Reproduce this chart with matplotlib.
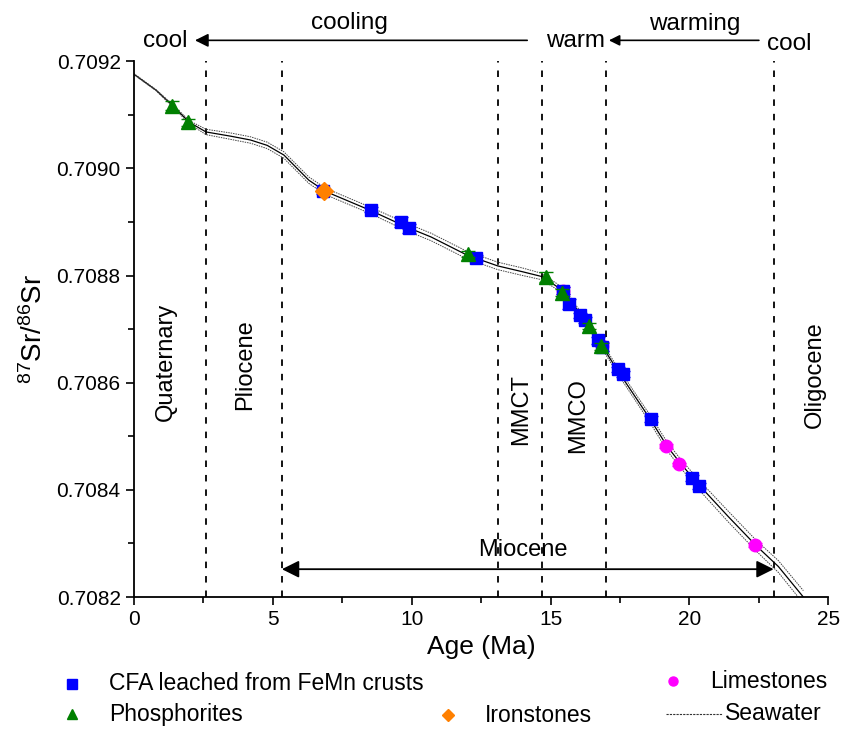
import matplotlib
matplotlib.use("Agg")
import matplotlib.pyplot as plt
from matplotlib.lines import Line2D
from matplotlib.ticker import MultipleLocator, FormatStrFormatter

plt.rcParams['font.family'] = ['Liberation Sans', 'DejaVu Sans']
plt.rcParams['mathtext.default'] = 'regular'

# seawater Sr curve (age in Ma) with its uncertainty half-width
sw_age = [0.0, 0.8, 1.4, 2.0, 2.6, 3.5, 4.2, 4.8, 5.4, 6.3, 6.9, 8.5, 9.8, 10.7,
          12.0, 13.1, 14.0, 14.7, 15.5, 16.1, 16.8, 17.4, 18.6, 19.2, 19.7,
          20.4, 21.4, 22.4, 23.2, 24.1]
sw_sr = [0.709176, 0.709146, 0.709117, 0.709086, 0.709068, 0.709060, 0.709053,
         0.709043, 0.709025, 0.708978, 0.708957, 0.708922, 0.708891, 0.708872,
         0.708838, 0.708818, 0.708807, 0.708798, 0.708770, 0.708726, 0.708673,
         0.708624, 0.708531, 0.708481, 0.708448, 0.708406, 0.708350, 0.708296,
         0.708257, 0.708200]
sw_err = [0.000001, 0.000001, 0.000002, 0.000003, 0.000005, 0.000006, 0.000006,
          0.000006, 0.000006, 0.000006, 0.000006, 0.000006, 0.000007, 0.000007,
          0.000007, 0.000007, 0.000007, 0.000006, 0.000005, 0.000005, 0.000005,
          0.000006, 0.000007, 0.000008, 0.000008, 0.000009, 0.000010, 0.000010,
          0.000011, 0.000012]

# CFA leached from FeMn crusts
cfa_age = [6.8, 8.54, 9.6, 9.9, 12.3, 15.45, 15.67, 16.07, 16.25, 16.7, 16.85,
           17.44, 17.6, 18.6, 20.1, 20.35]
cfa_sr = [0.708958, 0.708923, 0.708900, 0.708888, 0.708833, 0.708772, 0.708747,
          0.708726, 0.708717, 0.708679, 0.708667, 0.708625, 0.708616, 0.708532,
          0.708422, 0.708407]
cfa_err = [0.000005, 0.000005, 0.000010, 0.000008, 0.000005, 0.000006, 0.000010,
           0.000005, 0.000005, 0.000007, 0.000008, 0.000005, 0.000005, 0.000006,
           0.000005, 0.000006]

# phosphorites
pho_age = [1.37, 1.95, 12.03, 14.84, 15.42, 16.4, 16.8]
pho_sr = [0.709117, 0.709086, 0.708840, 0.708797, 0.708768, 0.708706, 0.708668]
pho_err = [0.000008, 0.000007, 0.000006, 0.000009, 0.000006, 0.000005, 0.000007]

# ironstones
iron_age = [6.85]
iron_sr = [0.708957]

# limestones
lime_age = [15.45, 16.85, 19.16, 19.63, 22.37]
lime_sr = [0.708772, 0.708668, 0.708482, 0.708448, 0.708297]
lime_err = [0.000006, 0.000008, 0.000003, 0.000003, 0.000003]

# boundaries (Ma) and their labels
bounds = [2.58, 5.33, 13.1, 14.7, 17.0, 23.03]
period_labels = ['Quaternary', 'Pliocene', 'MMCT', 'MMCO', 'Oligocene']
period_x = [1.15, 4.0, 13.94, 15.99, 24.53]
period_y = [0.708638, 0.708633, 0.708549, 0.708538, 0.708616]

fig = plt.figure(figsize=(8.47, 7.29), dpi=100)
ax = fig.add_axes([0.158, 0.181, 0.820, 0.735])

# seawater curve with dotted envelope
lo = [s - e for s, e in zip(sw_sr, sw_err)]
hi = [s + e for s, e in zip(sw_sr, sw_err)]
ax.plot(sw_age, sw_sr, color='black', lw=0.9, zorder=2)
ax.plot(sw_age, lo, color='#444444', lw=0.7, ls=(0, (1.5, 1)), zorder=2)
ax.plot(sw_age, hi, color='#444444', lw=0.7, ls=(0, (1.5, 1)), zorder=2)

for b in bounds:
    ax.axvline(b, color='black', ls=(0, (3.6, 4.4)), lw=1.3, zorder=1)

ax.errorbar(lime_age, lime_sr, yerr=lime_err, fmt='o', color='#ff00ff',
            ms=9, capsize=5, elinewidth=1, zorder=3)
ax.errorbar(cfa_age, cfa_sr, yerr=cfa_err, fmt='s', color='#0000ff',
            ms=9, capsize=5, elinewidth=1, zorder=4)
ax.errorbar(iron_age, iron_sr, fmt='D', color='#ff8000', ms=9, zorder=5)
ax.errorbar(pho_age, pho_sr, yerr=pho_err, fmt='^', color='#008000',
            ms=10, capsize=5, elinewidth=1, zorder=6)

for lab, x, y in zip(period_labels, period_x, period_y):
    ax.text(x, y, lab, rotation=90, ha='center', va='center', fontsize=17)

# Miocene span
ax.annotate('', xy=(5.33, 0.708252), xytext=(23.03, 0.708252),
            arrowprops=dict(arrowstyle='<|-|>', color='black', lw=1.3,
                            mutation_scale=26, shrinkA=0, shrinkB=0))
ax.text(14.0, 0.708287, 'Miocene', ha='center', va='center', fontsize=17)

# climate trend above the axes
ax.annotate('', xy=(2.2, 0.709239), xytext=(14.16, 0.709239),
            arrowprops=dict(arrowstyle='-|>', color='black', lw=1.2,
                            mutation_scale=20, shrinkA=0, shrinkB=0),
            annotation_clip=False)
ax.annotate('', xy=(17.1, 0.709239), xytext=(22.5, 0.709239),
            arrowprops=dict(arrowstyle='-|>', color='black', lw=1.2,
                            mutation_scale=16, shrinkA=0, shrinkB=0),
            annotation_clip=False)
top_kw = dict(ha='center', va='center', fontsize=17.5, clip_on=False)
ax.text(1.12, 0.709237, 'cool', **top_kw)
ax.text(7.75, 0.709272, 'cooling', **top_kw)
ax.text(15.9, 0.709237, 'warm', **top_kw)
ax.text(20.2, 0.709270, 'warming', **top_kw)
ax.text(23.6, 0.709232, 'cool', **top_kw)

ax.set_xlim(0, 25)
ax.set_ylim(0.7082, 0.7092)
ax.xaxis.set_major_locator(MultipleLocator(5))
ax.xaxis.set_minor_locator(MultipleLocator(2.5))
ax.yaxis.set_major_locator(MultipleLocator(0.0002))
ax.yaxis.set_minor_locator(MultipleLocator(0.0001))
ax.yaxis.set_major_formatter(FormatStrFormatter('%.4f'))
ax.tick_params(which='major', direction='out', length=6, width=1.2, labelsize=15)
ax.tick_params(which='minor', direction='out', length=4, width=1.2)
for side in ['top', 'right']:
    ax.spines[side].set_visible(False)
for side in ['left', 'bottom']:
    ax.spines[side].set_linewidth(1.3)

ax.set_xlabel('Age (Ma)', fontsize=19, labelpad=4)
ax.set_ylabel(r'$^{87}$Sr/$^{86}$Sr', fontsize=20, labelpad=6)

# legend laid out under the axes
W, H = 847, 729
entries = [
    ('s', '#0000ff', 72, 684, 'CFA leached from FeMn crusts'),
    ('^', '#008000', 72, 714, 'Phosphorites'),
    ('D', '#ff8000', 448, 715, 'Ironstones'),
    ('o', '#ff00ff', 673, 681, 'Limestones'),
]
for mk, col, px, py, lab in entries:
    fig.add_artist(Line2D([px / W], [1 - py / H], transform=fig.transFigure,
                          marker=mk, color=col, ms=6.5, ls='none'))
    fig.text((px + 37) / W, 1 - py / H, lab, ha='left', va='center', fontsize=16.5)
fig.add_artist(Line2D([666 / W, 722 / W], [1 - 714 / H, 1 - 714 / H],
                      transform=fig.transFigure, color='#333333', lw=0.8,
                      ls=(0, (2, 1))))
fig.text(725 / W, 1 - 714 / H, 'Seawater', ha='left', va='center', fontsize=16.5)

fig.savefig('out.png', dpi=100)
